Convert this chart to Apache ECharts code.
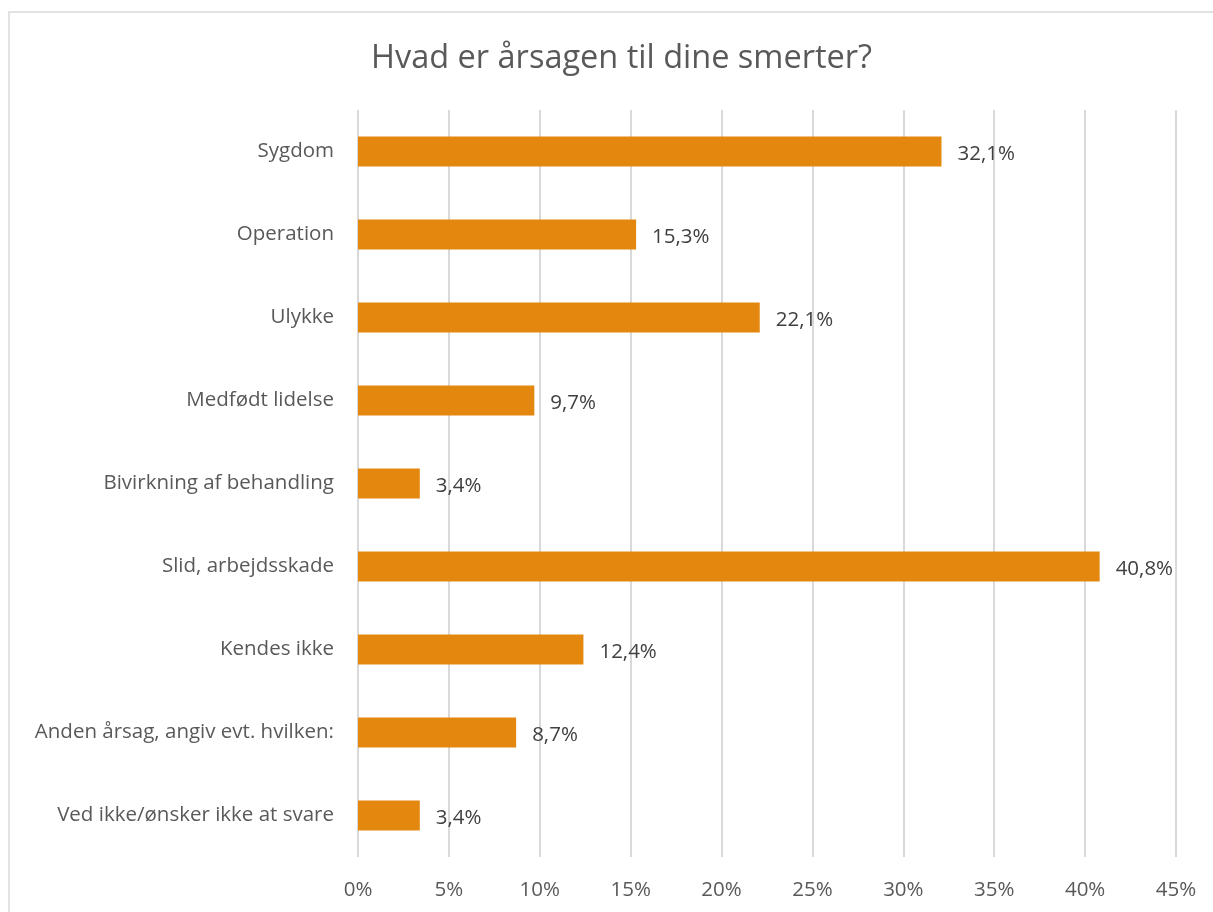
<!DOCTYPE html>
<html><head><meta charset="utf-8">
<script src="https://cdn.jsdelivr.net/npm/echarts@6/dist/echarts.min.js"></script>
<style>html,body{margin:0;padding:0;background:#fff}#c{width:1213px;height:912px}</style>
</head><body><div id="c"></div>
<script>
const titleText = 'Hvad er årsagen til dine smerter?';
const categories = ['Sygdom','Operation','Ulykke','Medfødt lidelse','Bivirkning af behandling','Slid, arbejdsskade','Kendes ikke','Anden årsag, angiv evt. hvilken:','Ved ikke/ønsker ikke at svare'];
const values = [32.1,15.3,22.1,9.7,3.4,40.8,12.4,8.7,3.4];
const xTicks = {min:0,max:45,interval:5};
const FONT = '"Open Sans", sans-serif';
const chart = echarts.init(document.getElementById('c'));
chart.setOption({
  animation:false,
  backgroundColor:'#fff',
  graphic:[{type:'rect',shape:{x:9,y:12,width:1220,height:920},style:{fill:'none',stroke:'#d9d9d9',lineWidth:1.5},silent:true}],
  title:{text:titleText,left:366,top:37,textStyle:{fontFamily:FONT,fontSize:32.5,fontWeight:'normal',color:'#595959'}},
  grid:{left:358,right:37,top:110,bottom:55},
  xAxis:{type:'value',min:xTicks.min,max:xTicks.max,interval:xTicks.interval,
    axisLine:{show:false},axisTick:{show:false},
    axisLabel:{formatter:v=>v+'%',color:'#595959',fontFamily:FONT,fontSize:20.5,margin:23},
    splitLine:{lineStyle:{color:'#d9d9d9',width:2}}},
  yAxis:{type:'category',data:categories,inverse:true,
    axisLine:{show:false},axisTick:{show:false},
    axisLabel:{color:'#595959',fontFamily:FONT,fontSize:20.5,margin:24}},
  series:[{type:'bar',data:values,barWidth:30,itemStyle:{color:'#E3870E'},
    label:{show:true,position:'right',distance:16,offset:[0,3],color:'#404040',fontFamily:FONT,fontSize:20.5,
      formatter:p=>p.value.toFixed(1).replace('.',',')+'%'}}]
});
</script></body></html>
